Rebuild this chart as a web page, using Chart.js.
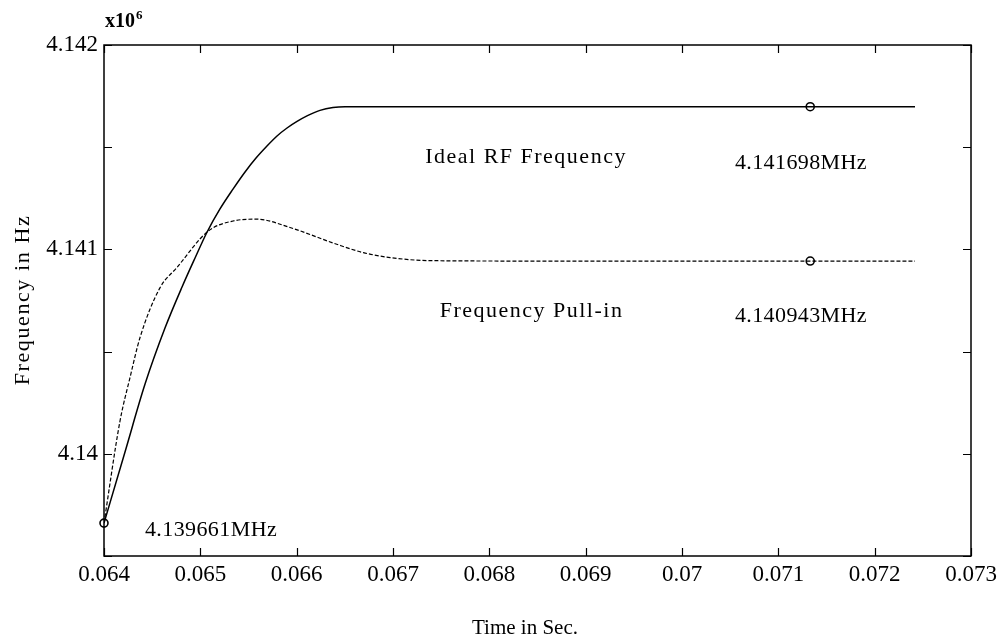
<!DOCTYPE html>
<html>
<head>
<meta charset="utf-8">
<script src="https://cdn.jsdelivr.net/npm/chart.js@4"></script>
<style>
  html, body { margin: 0; padding: 0; background: #ffffff; }
  #wrap { width: 1003px; height: 643px; }
</style>
</head>
<body>
<div id="wrap"><canvas id="c" width="1003" height="643"></canvas></div>
<script>
// ---- data (time in s, frequency in MHz i.e. Hz x10^6) ----
const idealTime = [0.064, 0.064218, 0.064426, 0.064633, 0.06481, 0.064945, 0.065069, 0.065204, 0.065339, 0.065464, 0.065578, 0.065692, 0.065796, 0.0659, 0.066004, 0.066107, 0.066242, 0.066377, 0.066502, 0.066657, 0.0675, 0.069, 0.071331, 0.072419];
const idealFreq = [4.139661, 4.140009, 4.140341, 4.140615, 4.140816, 4.140958, 4.141084, 4.141198, 4.141295, 4.141379, 4.141447, 4.141506, 4.141555, 4.141594, 4.141626, 4.141653, 4.14168, 4.141694, 4.141698, 4.141698, 4.141698, 4.141698, 4.141698, 4.141698];

const pullTime = [0.064, 0.064166, 0.06427, 0.064374, 0.064582, 0.064756, 0.065083, 0.06534, 0.065586, 0.065931, 0.066416, 0.066693, 0.06697, 0.067385, 0.0685, 0.071331, 0.072419];
const pullFreq = [4.139661, 4.14016, 4.140373, 4.140569, 4.140813, 4.140911, 4.14109, 4.141139, 4.141148, 4.141107, 4.141025, 4.140984, 4.14096, 4.140945, 4.140943, 4.140943, 4.140943];

const markerTime = [0.064, 0.071331, 0.071331];
const markerFreq = [4.139661, 4.141698, 4.140943];

const seriesNames = ['Ideal RF Frequency', 'Frequency Pull-in'];
const noteTexts = ['Ideal RF Frequency', '4.141698MHz', 'Frequency Pull-in', '4.140943MHz', '4.139661MHz'];
const noteAnchorTime = [0.068381, 0.071235, 0.068438, 0.071235, 0.065111];
const noteAnchorFreq = [4.141452, 4.141423, 4.140696, 4.140674, 4.139627];

const xMin = 0.064, xMax = 0.073, xStep = 0.001;
const yMin = 4.1395, yMax = 4.142, yStep = 0.0005;
const xTitle = 'Time in Sec.';
const yTitle = 'Frequency in Hz';

const toPts = (xs, ys) => xs.map((x, i) => ({x: x, y: ys[i]}));
const fmt = v => String(Number(v.toFixed(4)));

const SERIF = '"Liberation Serif", "Times New Roman", serif';

const decor = {
  id: 'decor',
  afterDatasetsDraw(chart) {
    const ctx = chart.ctx;
    const a = chart.chartArea;
    const xs = chart.scales.x, ys = chart.scales.y;
    const hasLS = ('letterSpacing' in ctx);
    ctx.save();
    ctx.strokeStyle = '#000';
    ctx.lineWidth = 1.5;
    ctx.strokeRect(a.left, a.top, a.right - a.left, a.bottom - a.top);
    ctx.lineWidth = 1.2;
    const L = 8;
    ctx.beginPath();
    xs.ticks.forEach(t => {
      const px = Math.round(xs.getPixelForValue(t.value)) + 0.5;
      ctx.moveTo(px, a.bottom); ctx.lineTo(px, a.bottom - L);
      ctx.moveTo(px, a.top); ctx.lineTo(px, a.top + L);
    });
    ys.ticks.forEach(t => {
      const py = Math.round(ys.getPixelForValue(t.value)) + 0.5;
      ctx.moveTo(a.left, py); ctx.lineTo(a.left + L, py);
      ctx.moveTo(a.right, py); ctx.lineTo(a.right - L, py);
    });
    ctx.stroke();

    // annotations
    ctx.fillStyle = '#000';
    ctx.textAlign = 'center';
    ctx.textBaseline = 'middle';
    noteTexts.forEach((txt, i) => {
      const isNumber = /MHz/.test(txt);
      ctx.font = '22px ' + SERIF;
      if (hasLS) ctx.letterSpacing = isNumber ? '0.4px' : '1.5px';
      ctx.fillText(txt, xs.getPixelForValue(noteAnchorTime[i]), ys.getPixelForValue(noteAnchorFreq[i]));
    });

    // axis titles
    if (hasLS) ctx.letterSpacing = '0px';
    ctx.font = '21px ' + SERIF;
    ctx.fillText(xTitle, 525, 628);
    if (hasLS) ctx.letterSpacing = '1.6px';
    ctx.font = '22px ' + SERIF;
    ctx.save();
    ctx.translate(23, 300);
    ctx.rotate(-Math.PI / 2);
    ctx.fillText(yTitle, 0, 0);
    ctx.restore();

    // exponent label
    if (hasLS) ctx.letterSpacing = '0px';
    ctx.textAlign = 'left';
    ctx.textBaseline = 'alphabetic';
    ctx.font = 'bold 20px ' + SERIF;
    ctx.fillText('x10', a.left + 1, 27);
    const w = ctx.measureText('x10').width;
    ctx.font = 'bold 13px ' + SERIF;
    ctx.fillText('6', a.left + 2 + w, 19);
    ctx.restore();
  }
};

new Chart(document.getElementById('c'), {
  type: 'line',
  data: {
    datasets: [
      {
        label: seriesNames[0],
        data: toPts(idealTime, idealFreq),
        borderColor: '#000',
        borderWidth: 1.5,
        pointRadius: 0,
        fill: false,
        cubicInterpolationMode: 'monotone'
      },
      {
        label: seriesNames[1],
        data: toPts(pullTime, pullFreq),
        borderColor: '#000',
        borderWidth: 1.2,
        borderDash: [4, 2],
        pointRadius: 0,
        fill: false,
        cubicInterpolationMode: 'monotone'
      },
      {
        label: 'markers',
        data: toPts(markerTime, markerFreq),
        showLine: false,
        pointRadius: 4,
        pointStyle: 'circle',
        pointBorderColor: '#000',
        pointBackgroundColor: '#fff',
        pointBorderWidth: 1.6,
        clip: false
      }
    ]
  },
  options: {
    responsive: false,
    animation: false,
    devicePixelRatio: 1,
    layout: { padding: { top: 45, right: 32, left: 0, bottom: 0 } },
    plugins: { legend: { display: false }, tooltip: { enabled: false } },
    scales: {
      x: {
        type: 'linear',
        min: xMin, max: xMax,
        afterFit(s) { s.height = 87; },
        afterBuildTicks(s) {
          const t = [];
          for (let i = 0; i <= Math.round((xMax - xMin) / xStep); i++) t.push({value: +(xMin + i * xStep).toFixed(4)});
          s.ticks = t;
        },
        ticks: {
          color: '#000', padding: 5, maxRotation: 0, autoSkip: false,
          font: { family: SERIF, size: 23 },
          callback: v => fmt(v)
        },
        grid: { display: false, drawTicks: false },
        border: { display: false }
      },
      y: {
        type: 'linear',
        min: yMin, max: yMax,
        afterFit(s) { s.width = 104; },
        afterBuildTicks(s) {
          const t = [];
          for (let i = 0; i <= Math.round((yMax - yMin) / yStep); i++) t.push({value: +(yMin + i * yStep).toFixed(5)});
          s.ticks = t;
        },
        ticks: {
          color: '#000', padding: 6, autoSkip: false,
          font: { family: SERIF, size: 23 },
          callback: v => {
            const k = v * 1000;
            return Math.abs(k - Math.round(k)) < 1e-6 ? fmt(v) : '';
          }
        },
        grid: { display: false, drawTicks: false },
        border: { display: false }
      }
    }
  },
  plugins: [decor]
});
</script>
</body>
</html>
